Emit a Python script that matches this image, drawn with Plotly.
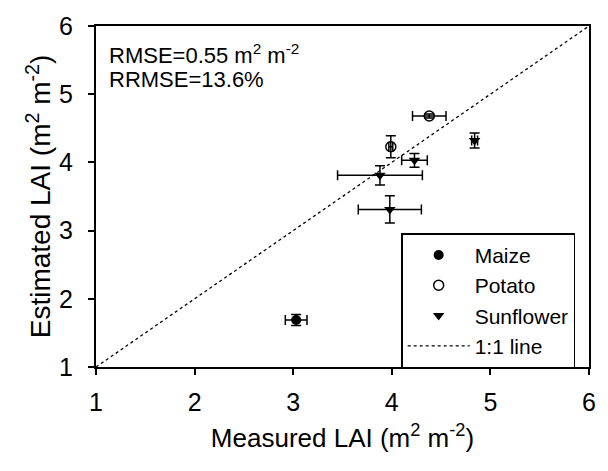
import plotly.graph_objects as go

# Data
maize_x = [3.03]
maize_y = [1.69]
maize_xerr = [0.11]
maize_yerr = [0.08]

potato_x = [4.38, 3.99]
potato_y = [4.68, 4.23]
potato_xerr = [0.17, 0.02]
potato_yerr = [0.03, 0.16]

sun_x = [4.84, 4.23, 3.88, 3.98]
sun_y = [4.32, 4.03, 3.81, 3.31]
sun_xerr = [0.03, 0.13, 0.43, 0.32]
sun_yerr = [0.11, 0.10, 0.14, 0.20]

line_x = [1, 6]
line_y = [1, 6]

stats_lines = ["RMSE=0.55 m<sup>2</sup> m<sup>-2</sup>", "RRMSE=13.6%"]

FONT = "Liberation Sans"

def eb(arr):
    return dict(type="data", array=arr, visible=True, color="black", thickness=1.5, width=5)

fig = go.Figure()
fig.add_trace(go.Scatter(x=line_x, y=line_y, mode="lines", name="1:1 line",
                         line=dict(color="black", width=1.3, dash="dot"), showlegend=False))
fig.add_trace(go.Scatter(x=maize_x, y=maize_y, mode="markers", name="Maize",
                         error_x=eb(maize_xerr), error_y=eb(maize_yerr),
                         marker=dict(symbol="circle", size=10, color="black")))
fig.add_trace(go.Scatter(x=potato_x, y=potato_y, mode="markers", name="Potato",
                         error_x=eb(potato_xerr), error_y=eb(potato_yerr),
                         marker=dict(symbol="circle-open", size=10, color="black", line=dict(width=1.5))))
fig.add_trace(go.Scatter(x=sun_x, y=sun_y, mode="markers", name="Sunflower",
                         error_x=eb(sun_xerr), error_y=eb(sun_yerr),
                         marker=dict(symbol="triangle-down", size=10, color="black")))
fig.add_trace(go.Scatter(x=[None], y=[None], mode="lines", name="1:1 line",
                         line=dict(color="black", width=1.2, dash="dot")))

axis_common = dict(range=[1, 6], dtick=1, tick0=1, showgrid=False, zeroline=False,
                   showline=True, linecolor="black", linewidth=2, mirror=True,
                   ticks="outside", ticklen=6, tickwidth=1.5, tickcolor="black",
                   tickfont=dict(family=FONT, size=25, color="black"))

annos = []
for i, t in enumerate(stats_lines):
    annos.append(dict(x=0, y=1, xref="paper", yref="paper", xanchor="left", yanchor="middle",
                      xshift=11, yshift=-28 - 25 * i, align="left", showarrow=False,
                      text=t, font=dict(family=FONT, size=22, color="black")))

fig.update_layout(
    width=608, height=471,
    margin=dict(l=96, r=16, t=20, b=104),
    paper_bgcolor="white", plot_bgcolor="white",
    font=dict(family=FONT, color="black"),
    xaxis=dict(**axis_common, ticklabelstandoff=6,
               title=dict(text="Measured LAI (m<sup>2</sup> m<sup>-2</sup>)",
                          font=dict(family=FONT, size=26, color="black"), standoff=14)),
    yaxis=dict(**axis_common, ticklabelstandoff=10,
               title=dict(text="Estimated LAI (m<sup>2</sup> m<sup>-2</sup>)",
                          font=dict(family=FONT, size=28, color="black"), standoff=0)),
    legend=dict(x=0.619, y=0.392, xanchor="left", yanchor="top",
                bordercolor="black", borderwidth=1.5, bgcolor="white",
                font=dict(family=FONT, size=21, color="black"),
                tracegroupgap=0, itemwidth=62),
    annotations=annos,
)

fig.write_html("out.html")
